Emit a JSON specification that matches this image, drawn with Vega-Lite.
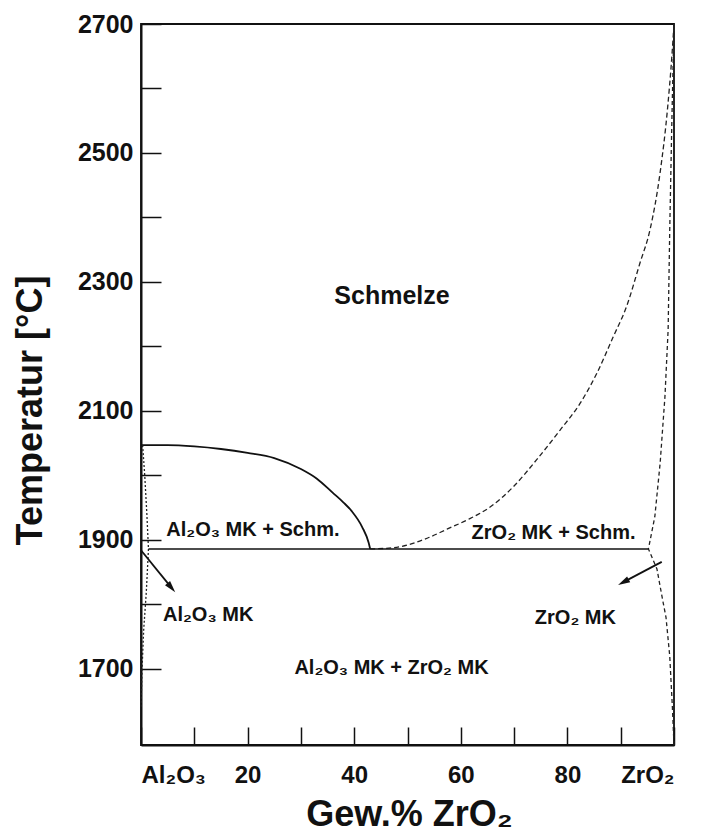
{
  "$schema": "https://vega.github.io/schema/vega-lite/v6.json",
  "autosize": {"type": "none"},
  "padding": {"left": 141, "top": 24, "right": 34, "bottom": 95},
  "width": 533,
  "height": 721,
  "background": "white",
  "config": {
    "view": {"stroke": "#111", "strokeWidth": 1.8},
    "font": "Liberation Sans",
    "axis": {
      "domainColor": "#111", "domainWidth": 2,
      "tickColor": "#111", "tickWidth": 1.5,
      "labelFont": "Liberation Sans", "labelFontWeight": "bold", "labelColor": "#111",
      "titleFont": "Liberation Sans", "titleFontWeight": "bold", "titleColor": "#111",
      "grid": false
    }
  },
  "datasets": {
    "liqA": [
      {"x": 0, "y": 2047}, {"x": 5, "y": 2047}, {"x": 10, "y": 2045}, {"x": 15, "y": 2041},
      {"x": 20, "y": 2035}, {"x": 25, "y": 2027}, {"x": 30, "y": 2010}, {"x": 33, "y": 1995},
      {"x": 36, "y": 1973}, {"x": 38, "y": 1958}, {"x": 39.5, "y": 1945}, {"x": 41.5, "y": 1920},
      {"x": 42.7, "y": 1896}, {"x": 43.0, "y": 1886}
    ],
    "liqZ": [
      {"x": 43.0, "y": 1886}, {"x": 47.4, "y": 1888}, {"x": 53.8, "y": 1903}, {"x": 57.5, "y": 1917},
      {"x": 61.7, "y": 1933}, {"x": 65.5, "y": 1951}, {"x": 69.8, "y": 1982}, {"x": 74.2, "y": 2024},
      {"x": 78.6, "y": 2070}, {"x": 82.4, "y": 2112}, {"x": 85.5, "y": 2158}, {"x": 88.6, "y": 2215},
      {"x": 91.1, "y": 2262}, {"x": 93.6, "y": 2329}, {"x": 95.5, "y": 2381}, {"x": 97.4, "y": 2470},
      {"x": 98.8, "y": 2570}, {"x": 99.6, "y": 2650}, {"x": 100, "y": 2700}
    ],
    "solA": [
      {"i": 1, "x": 0.3, "y": 2047}, {"i": 2, "x": 0.7, "y": 2000}, {"i": 3, "x": 1.1, "y": 1940},
      {"i": 4, "x": 1.4, "y": 1886}, {"i": 5, "x": 1.0, "y": 1820}, {"i": 6, "x": 0.5, "y": 1760},
      {"i": 7, "x": 0.2, "y": 1700}, {"i": 8, "x": 0, "y": 1640}
    ],
    "solZ": [
      {"i": 1, "x": 100, "y": 2700}, {"i": 2, "x": 99.6, "y": 2550}, {"i": 3, "x": 99.2, "y": 2381},
      {"i": 4, "x": 98.9, "y": 2226}, {"i": 5, "x": 98.3, "y": 2122}, {"i": 6, "x": 97.4, "y": 2019},
      {"i": 7, "x": 96.4, "y": 1936}, {"i": 8, "x": 95.2, "y": 1886}, {"i": 9, "x": 96.8, "y": 1855},
      {"i": 10, "x": 97.8, "y": 1810}, {"i": 11, "x": 98.5, "y": 1780}, {"i": 12, "x": 99.2, "y": 1720},
      {"i": 13, "x": 99.7, "y": 1640}, {"i": 14, "x": 100, "y": 1582}
    ],
    "eutectic": [{"x": 1.4, "x2": 95.2, "y": 1886}],
    "arrows": [
      {"id": "Al", "x": 0, "y": 1884, "x2": 5.7, "y2": 1826},
      {"id": "Zr", "x": 97.7, "y": 1866, "x2": 90.5, "y2": 1834.5}
    ],
    "regions": [
      {"label": "Al₂O₃ MK + Schm.", "x": 21.0, "y": 1915},
      {"label": "ZrO₂ MK + Schm.", "x": 77.4, "y": 1911},
      {"label": "Al₂O₃ MK", "x": 12.6, "y": 1784},
      {"label": "ZrO₂ MK", "x": 81.5, "y": 1779},
      {"label": "Al₂O₃ MK + ZrO₂ MK", "x": 47.0, "y": 1701}
    ],
    "melt": [{"label": "Schmelze", "x": 47.1, "y": 2278}]
  },
  "encoding": {
    "x": {
      "field": "x", "type": "quantitative",
      "scale": {"domain": [0, 100], "nice": false, "zero": false},
      "axis": {
        "values": [0, 10, 20, 30, 40, 50, 60, 70, 80, 90, 100],
        "labelExpr": "datum.value == 0 ? 'Al₂O₃' : datum.value == 100 ? 'ZrO₂' : (datum.value % 20 == 0 ? datum.label : '')",
        "format": "d",
        "tickSize": -18,
        "labelPadding": 36,
        "labelFontSize": 24,
        "labelBaseline": "top",
        "title": "Gew.% ZrO₂",
        "titleFontSize": 36,
        "titleX": 268,
        "titleY": 80,
        "titleBaseline": "alphabetic"
      }
    },
    "y": {
      "field": "y", "type": "quantitative",
      "scale": {"domain": [1582, 2700], "nice": false, "zero": false},
      "axis": {
        "values": [1700, 1800, 1900, 2000, 2100, 2200, 2300, 2400, 2500, 2600, 2700],
        "format": "d",
        "labelExpr": "datum.value % 200 == 100 ? datum.label : ''",
        "tickSize": -20,
        "labelPadding": 28,
        "labelFontSize": 25,
        "title": "Temperatur [°C]",
        "titleFontSize": 36,
        "titleX": -100,
        "titleY": 386,
        "titleBaseline": "alphabetic"
      }
    }
  },
  "layer": [
    {"data": {"name": "liqA"}, "mark": {"type": "line", "color": "#111", "strokeWidth": 1.8, "interpolate": "monotone"}},
    {"data": {"name": "liqZ"}, "mark": {"type": "line", "color": "#222", "strokeWidth": 1.3, "strokeDash": [5, 3], "interpolate": "monotone"}},
    {"data": {"name": "solA"}, "mark": {"type": "line", "color": "#222", "strokeWidth": 1.3, "strokeDash": [2, 2]}, "encoding": {"order": {"field": "i", "type": "quantitative"}}},
    {"data": {"name": "solZ"}, "mark": {"type": "line", "color": "#222", "strokeWidth": 1.3, "strokeDash": [4, 3]}, "encoding": {"order": {"field": "i", "type": "quantitative"}}},
    {"data": {"name": "eutectic"}, "mark": {"type": "rule", "color": "#111", "strokeWidth": 1.6}, "encoding": {"x2": {"field": "x2"}}},
    {"data": {"name": "arrows"}, "mark": {"type": "rule", "color": "#111", "strokeWidth": 1.8}, "encoding": {"x2": {"field": "x2"}, "y2": {"field": "y2"}}},
    {
      "data": {"name": "arrows"}, "transform": [{"filter": "datum.id == 'Al'"}],
      "mark": {"type": "point", "shape": "M0,-1L0.55,1L-0.55,1Z", "filled": true, "color": "#111", "opacity": 1, "size": 144, "angle": 140},
      "encoding": {"x": {"field": "x2", "type": "quantitative"}, "y": {"field": "y2", "type": "quantitative"}}
    },
    {
      "data": {"name": "arrows"}, "transform": [{"filter": "datum.id == 'Zr'"}],
      "mark": {"type": "point", "shape": "M0,-1L0.55,1L-0.55,1Z", "filled": true, "color": "#111", "opacity": 1, "size": 144, "angle": 242},
      "encoding": {"x": {"field": "x2", "type": "quantitative"}, "y": {"field": "y2", "type": "quantitative"}}
    },
    {
      "data": {"name": "regions"},
      "mark": {"type": "text", "font": "Liberation Sans", "fontWeight": "bold", "fontSize": 20, "color": "#111", "baseline": "middle", "align": "center"},
      "encoding": {"text": {"field": "label"}}
    },
    {
      "data": {"name": "melt"},
      "mark": {"type": "text", "font": "Liberation Sans", "fontWeight": "bold", "fontSize": 25, "color": "#111", "baseline": "middle", "align": "center"},
      "encoding": {"text": {"field": "label"}}
    }
  ]
}
